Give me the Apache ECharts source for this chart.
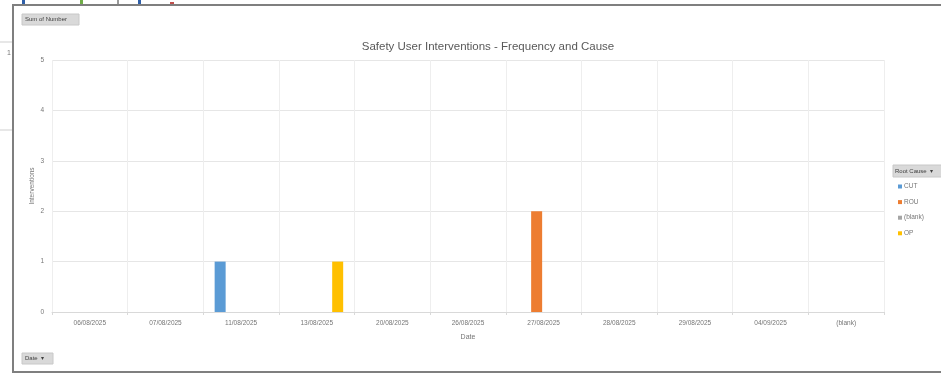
<!DOCTYPE html>
<html>
<head>
<meta charset="utf-8">
<style>
  html, body { margin: 0; padding: 0; background: #fff; }
  #chart { width: 941px; height: 376px; }
</style>
<script src="https://cdn.jsdelivr.net/npm/echarts@6/dist/echarts.min.js"></script>
</head>
<body>
<div id="chart"></div>
<script>
// Pivot chart: safety user interventions per date, split by root cause
const dates = ['06/08/2025', '07/08/2025', '11/08/2025', '13/08/2025', '20/08/2025',
  '26/08/2025', '27/08/2025', '28/08/2025', '29/08/2025', '04/09/2025', '(blank)'];
const rootCauses = ['CUT', 'ROU', '(blank)', 'OP'];
const cutValues   = [null, null, 1, null, null, null, null, null, null, null, null];
const rouValues   = [null, null, null, null, null, null, 2, null, null, null, null];
const blankValues = [null, null, null, null, null, null, null, null, null, null, null];
const opValues    = [null, null, null, 1, null, null, null, null, null, null, null];
const yTicks = [0, 1, 2, 3, 4, 5];

const seriesValues = [cutValues, rouValues, blankValues, opValues];
const palette = ['#5B9BD5', '#ED7D31', '#A5A5A5', '#FFC000'];
const font = 'Liberation Sans, DejaVu Sans, sans-serif';
const textGrey = '#595959';
const tickGrey = '#767676';

const chart = echarts.init(document.getElementById('chart'), null, { renderer: 'canvas' });

chart.setOption({
  animation: false,
  backgroundColor: '#ffffff',
  color: palette,
  title: {
    text: 'Safety User Interventions - Frequency and Cause',
    left: 483, top: 36, textAlign: 'center',
    textStyle: { fontFamily: font, fontSize: 11.5, fontWeight: 'normal', color: textGrey }
  },
  legend: {
    orient: 'vertical',
    left: 893, top: 178,
    itemWidth: 4, itemHeight: 4, itemGap: 8.6,
    icon: 'rect',
    data: rootCauses,
    textStyle: { fontFamily: font, fontSize: 6.5, color: tickGrey, padding: [0, 0, 0, -3] }
  },
  grid: { left: 52, right: 57, top: 60, bottom: 64 },
  xAxis: {
    type: 'category',
    data: dates,
    name: 'Date',
    nameLocation: 'middle',
    nameGap: 22,
    nameTextStyle: { fontFamily: font, fontSize: 7, color: tickGrey },
    axisLine: { lineStyle: { color: '#d9d9d9' } },
    axisTick: { show: true, length: 3, lineStyle: { color: '#d9d9d9' } },
    axisLabel: { fontFamily: font, fontSize: 6.5, color: tickGrey, margin: 8 },
    splitLine: { show: true, lineStyle: { color: '#eeeeee' } }
  },
  yAxis: {
    type: 'value',
    min: yTicks[0], max: yTicks[yTicks.length - 1], interval: 1,
    name: 'Interventions',
    nameLocation: 'middle',
    nameGap: 16,
    nameMoveOverlap: false,
    nameTextStyle: { fontFamily: font, fontSize: 6.5, color: tickGrey },
    axisLine: { show: false },
    axisTick: { show: false },
    axisLabel: { fontFamily: font, fontSize: 6.5, color: tickGrey, margin: 8 },
    splitLine: { lineStyle: { color: '#e6e6e6' } }
  },
  series: rootCauses.map((name, i) => ({
    name: name,
    type: 'bar',
    data: seriesValues[i],
    barWidth: 11,
    barGap: '27%',
    itemStyle: { color: palette[i] }
  })),
  graphic: [
    // surrounding sheet: fragments of the neighbouring chart above
    { type: 'rect', shape: { x: 22, y: 0, width: 3, height: 5 }, style: { fill: '#2f5fa8' }, silent: true },
    { type: 'rect', shape: { x: 80, y: 0, width: 3, height: 5 }, style: { fill: '#70ad47' }, silent: true },
    { type: 'rect', shape: { x: 117, y: 0, width: 2, height: 5 }, style: { fill: '#9a9a9a' }, silent: true },
    { type: 'rect', shape: { x: 138, y: 0, width: 3, height: 5 }, style: { fill: '#2f5fa8' }, silent: true },
    { type: 'rect', shape: { x: 170, y: 2, width: 4, height: 3 }, style: { fill: '#c0504d' }, silent: true },
    { type: 'line', shape: { x1: 0, y1: 42, x2: 12, y2: 42 }, style: { stroke: '#cfcfcf', lineWidth: 1 }, silent: true },
    { type: 'line', shape: { x1: 0, y1: 130, x2: 12, y2: 130 }, style: { stroke: '#cfcfcf', lineWidth: 1 }, silent: true },
    { type: 'text', left: 7, top: 50, style: { text: '1', font: '7px ' + font, fill: '#777' }, silent: true },
    // chart frame
    { type: 'rect', shape: { x: 13, y: 5, width: 940, height: 367 },
      style: { fill: 'none', stroke: '#7f7f7f', lineWidth: 2 }, silent: true },
    // pivot field buttons
    { type: 'rect', shape: { x: 22, y: 14, width: 57, height: 11 }, style: { fill: '#d9d9d9', stroke: '#c8c8c8' }, silent: true },
    { type: 'text', left: 25, top: 16, style: { text: 'Sum of Number', font: '6px ' + font, fill: '#404040' }, silent: true },
    { type: 'rect', shape: { x: 893, y: 165, width: 50, height: 12 }, style: { fill: '#d9d9d9', stroke: '#c8c8c8' }, silent: true },
    { type: 'text', left: 895, top: 168, style: { text: 'Root Cause  \u25BE', font: '6px ' + font, fill: '#404040' }, silent: true },
    { type: 'rect', shape: { x: 22, y: 353, width: 31, height: 11 }, style: { fill: '#d9d9d9', stroke: '#c8c8c8' }, silent: true },
    { type: 'text', left: 25, top: 355, style: { text: 'Date  \u25BE', font: '6px ' + font, fill: '#404040' }, silent: true }
  ]
});
</script>
</body>
</html>
